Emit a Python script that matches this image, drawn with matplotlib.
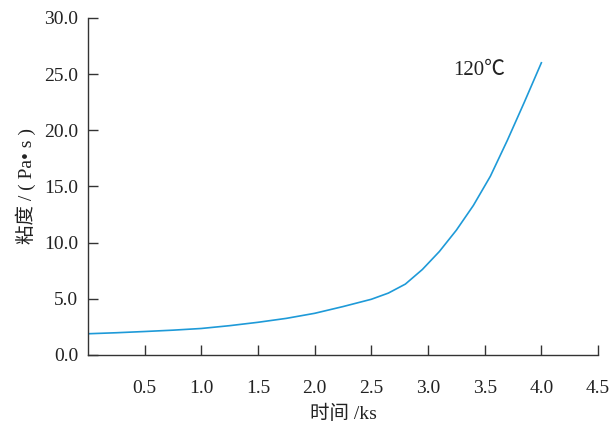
import numpy as np
import matplotlib.pyplot as plt

# 数据
time_ks = [0.0, 0.25, 0.5, 0.75, 1.0, 1.25, 1.5, 1.75, 2.0, 2.25, 2.5,
           2.65, 2.8, 2.95, 3.1, 3.25, 3.4, 3.55, 3.7, 3.85, 4.0]
viscosity = [1.88, 1.97, 2.08, 2.2, 2.35, 2.6, 2.9, 3.25, 3.7, 4.3, 4.95,
             5.5, 6.3, 7.6, 9.2, 11.1, 13.3, 15.9, 19.1, 22.5, 26.0]
x_ticks = [0.5, 1.0, 1.5, 2.0, 2.5, 3.0, 3.5, 4.0, 4.5]
y_ticks = [0, 5, 10, 15, 20, 25, 30]

plt.rcParams['font.family'] = ['Liberation Serif', 'Noto Sans CJK SC', 'DejaVu Sans']

fig = plt.figure(figsize=(6.09, 4.25), dpi=100)
ax = fig.add_axes([0.1445, 0.165, 0.8375, 0.793])

ax.plot(time_ks, viscosity, color="#1e9ad8", linewidth=1.2)
ax.text(3.45, 25.3, "120℃", fontsize=15, ha="center", va="center", color="#222222")

ax.set_xlim(0, 4.5)
ax.set_ylim(0, 30)
ax.set_xticks(x_ticks)
ax.set_xticklabels(["%.1f" % v for v in x_ticks])
ax.set_yticks(y_ticks)
ax.set_yticklabels(["%.1f" % v for v in y_ticks])

for s in ["top", "right"]:
    ax.spines[s].set_visible(False)
for s in ["left", "bottom"]:
    ax.spines[s].set_color("#333333")
    ax.spines[s].set_linewidth(1.0)

ax.tick_params(axis="both", direction="in", length=7, width=1.0,
               colors="#333333", labelcolor="#222222", labelsize=14)
ax.tick_params(axis="x", pad=18)
ax.tick_params(axis="y", pad=7)

ax.set_xlabel("时间 /ks", fontsize=14, color="#222222", labelpad=6)
ax.set_ylabel("粘度 / ( Pa• s )", fontsize=14, color="#222222", labelpad=6)

fig.savefig("out.png", dpi=100)
